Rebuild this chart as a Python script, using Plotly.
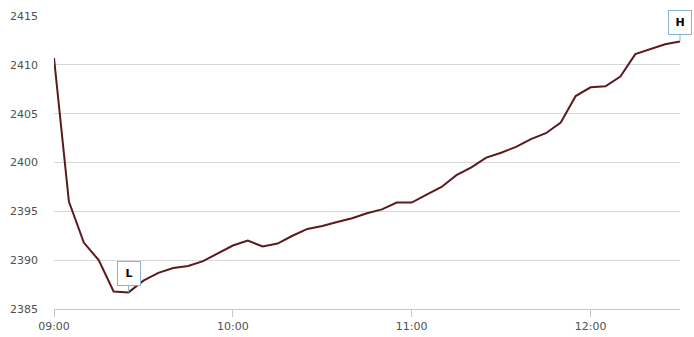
import pandas as pd
import plotly.graph_objects as go

times = pd.date_range("2024-01-02 09:00", "2024-01-02 12:30", freq="5min")
prices = [2410.7, 2396.0, 2391.8, 2390.0, 2386.8, 2386.7, 2387.9, 2388.7, 2389.2, 2389.4,
          2389.9, 2390.7, 2391.5, 2392.0, 2391.4, 2391.7, 2392.5, 2393.2, 2393.5, 2393.9,
          2394.3, 2394.8, 2395.2, 2395.9, 2395.9, 2396.7, 2397.5, 2398.7, 2399.5, 2400.5,
          2401.0, 2401.6, 2402.4, 2403.0, 2404.1, 2406.8, 2407.7, 2407.8, 2408.8, 2411.1,
          2411.6, 2412.1, 2412.4]
y_ticks = [2385, 2390, 2395, 2400, 2405, 2410, 2415]
flag_labels = ["L", "H"]

fig = go.Figure()
fig.add_trace(go.Scatter(x=times, y=prices, mode="lines",
                         line=dict(color="#5a1a1e", width=2), hoverinfo="skip"))

i_lo = prices.index(min(prices))
i_hi = prices.index(max(prices))
for idx, lab in zip([i_lo, i_hi], flag_labels):
    fig.add_annotation(x=times[idx], y=prices[idx], text="<b>%s</b>" % lab,
                       showarrow=True, arrowhead=0, arrowwidth=1, arrowcolor="#8eb1cf",
                       ax=0, ay=-19, axref="pixel", ayref="pixel",
                       bgcolor="white", bordercolor="#8eb1cf", borderwidth=1, borderpad=4,
                       width=14, height=15,
                       font=dict(family="DejaVu Sans", size=11, color="#000000"))

fig.update_layout(
    width=694, height=337,
    margin=dict(l=54, r=14, t=16, b=28),
    paper_bgcolor="white", plot_bgcolor="white",
    showlegend=False,
    font=dict(family="DejaVu Sans", size=11, color="#505050"),
)
fig.update_xaxes(range=[times[0], times[-1]], tickformat="%H:%M", dtick=3600000,
                 tick0=times[0], showgrid=False, showline=True, linecolor="#c0c8d0",
                 linewidth=1, ticks="outside", ticklen=7, tickcolor="#c0c8d0",
                 zeroline=False, automargin=False, tickfont=dict(size=11, color="#505050"))
fig.update_yaxes(range=[2385, 2415], tickvals=y_ticks, showgrid=True, gridcolor="#d8d8d8",
                 gridwidth=1, zeroline=False, showline=False, ticklabelstandoff=15,
                 automargin=False, tickfont=dict(size=11, color="#505050"))

fig.write_html("out.html")
